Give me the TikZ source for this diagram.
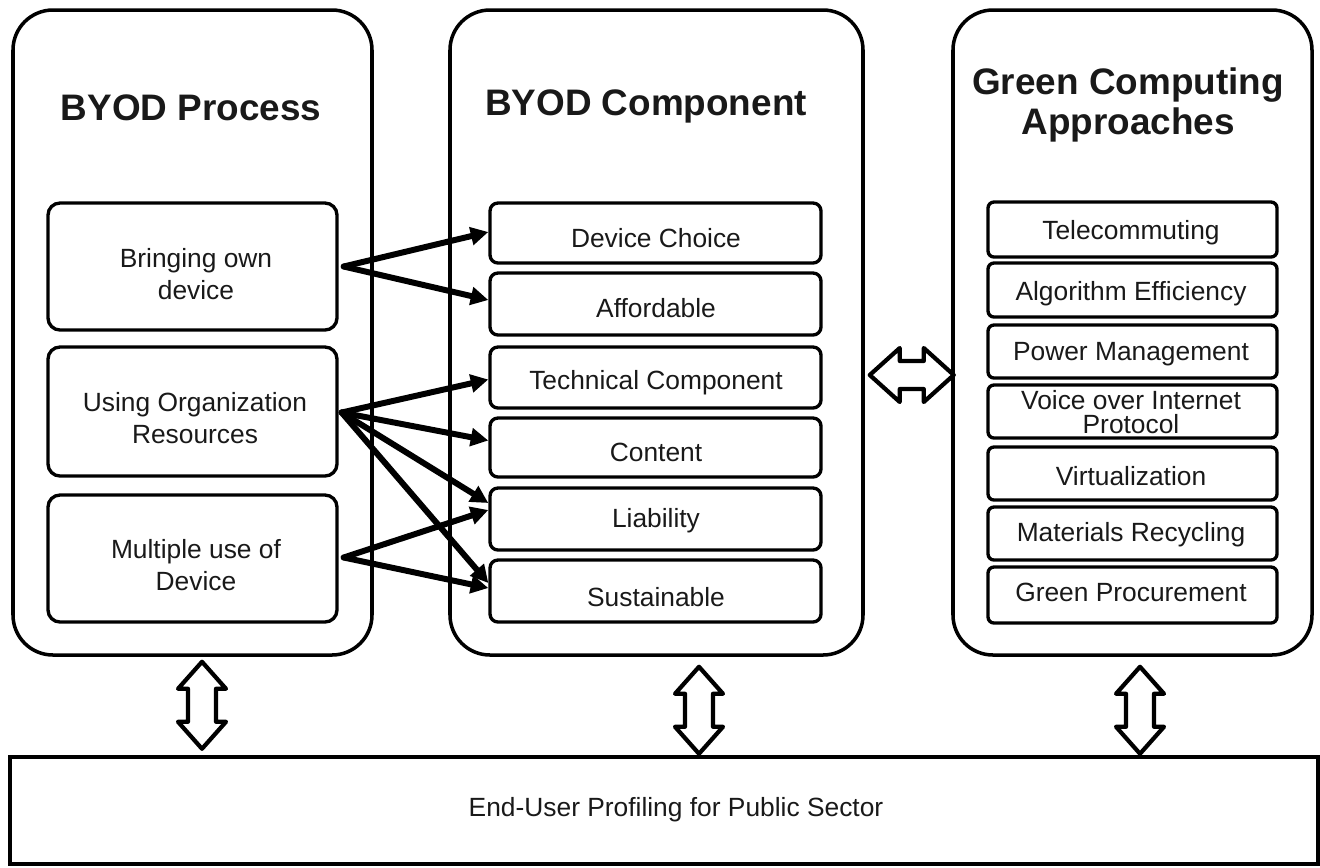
\documentclass[tikz,border=0pt]{standalone}
\usepackage{fontspec}
\setmainfont{Liberation Sans}
\usetikzlibrary{arrows.meta,calc}
\definecolor{ink}{RGB}{25,25,25}
\begin{document}
\begin{tikzpicture}[x=0.02cm,y=-0.02cm,
  sz/.style 2 args={minimum width=#1*0.02cm, minimum height=#2*0.02cm},
  panel/.style={draw=black, line width=2pt, rounded corners=0.8cm, inner sep=0},
  lbox/.style={draw=black, line width=1.9pt, rounded corners=0.24cm, inner sep=0},
  mbox/.style={draw=black, line width=1.9pt, rounded corners=0.16cm, inner sep=0},
  rbox/.style={draw=black, line width=1.9pt, rounded corners=0.12cm, inner sep=0},
  ttl/.style={font=\fontsize{21}{23}\selectfont\bfseries, text=ink, align=center, inner sep=0},
  lbl/.style={font=\fontsize{15}{18}\selectfont, text=ink, align=center, inner sep=0},
  link/.style={draw=black, line width=3.4pt, line cap=round, -{Triangle[length=10pt,width=10pt]}},
  dbl/.style={draw=black, line width=2.4pt, fill=white, line join=round},
  vdbl/.pic={\draw[dbl] (0,0) -- (24,27) -- (14,27) -- (14,60) -- (24,60) -- (0,87) -- (-24,60) -- (-14,60) -- (-14,27) -- (-24,27) -- cycle;},
  hdbl/.pic={\draw[dbl] (0,0) -- (30,-27) -- (30,-14) -- (54,-14) -- (54,-27) -- (84,0) -- (54,27) -- (54,14) -- (30,14) -- (30,27) -- cycle;},
]
\useasboundingbox (0,0) rectangle (1320,867);

% panels
\node[panel, sz={359}{645}] (p1) at (192.5,332.5) {};
\node[panel, sz={413}{645}] (p2) at (656.5,332.5) {};
\node[panel, sz={359}{645}] (p3) at (1132.5,332.5) {};

% titles
\node[ttl] (t1) at (191,108) {BYOD Process};
\node[ttl] (t2) at (646,106) {BYOD Component};
\node[ttl] (t3) at (1128,105) {Green Computing\\Approaches};

% left boxes
\node[lbox, sz={289}{127}] (b1) at (192.5,266.5) {};
\node[lbox, sz={289}{129}] (b2) at (192.5,411.5) {};
\node[lbox, sz={289}{127}] (b3) at (192.5,558.5) {};
\node[lbl] (b1t) at (196,274) {Bringing own\\device};
\node[lbl] (b2t) at (195,418) {Using Organization\\Resources};
\node[lbl] (b3t) at (196,565) {Multiple use of\\Device};

% middle boxes
\node[mbox, sz={331}{60}] (c1) at (655.5,233) {};
\node[mbox, sz={331}{62}] (c2) at (655.5,304) {};
\node[mbox, sz={331}{61}] (c3) at (655.5,377.5) {};
\node[mbox, sz={331}{59}] (c4) at (655.5,447.5) {};
\node[mbox, sz={331}{62}] (c5) at (655.5,519) {};
\node[mbox, sz={331}{62}] (c6) at (655.5,591) {};
\node[lbl] (c1t) at (656,238) {Device Choice};
\node[lbl] (c2t) at (656,308) {Affordable};
\node[lbl] (c3t) at (656,383) {Technical Component};
\node[lbl] (c4t) at (656,452) {Content};
\node[lbl] (c5t) at (656,521) {Liability};
\node[lbl] (c6t) at (656,597) {Sustainable};

% right boxes
\node[rbox, sz={289}{55}] (g1) at (1132.5,229.5) {};
\node[rbox, sz={289}{54}] (g2) at (1132.5,290) {};
\node[rbox, sz={289}{53}] (g3) at (1132.5,351.5) {};
\node[rbox, sz={289}{53}] (g4) at (1132.5,411.5) {};
\node[rbox, sz={289}{53}] (g5) at (1132.5,473.5) {};
\node[rbox, sz={289}{53}] (g6) at (1132.5,533.5) {};
\node[rbox, sz={289}{56}] (g7) at (1132.5,595) {};
\node[lbl] (g1t) at (1131,233) {Telecommuting};
\node[lbl] (g2t) at (1131,294) {Algorithm Efficiency};
\node[lbl] (g3t) at (1131,354) {Power Management};
\node[lbl, font=\fontsize{15}{14}\selectfont] (g4t) at (1131,412) {Voice over Internet\\Protocol};
\node[lbl] (g5t) at (1131,476) {Virtualization};
\node[lbl] (g6t) at (1131,535) {Materials Recycling};
\node[lbl] (g7t) at (1131,592) {Green Procurement};

% bottom box
\node[draw=black, line width=2pt, inner sep=0, sz={1308}{107}] (bot) at (664,810.5) {};
\node[lbl] (bott) at (676,810) {End-User Profiling for Public Sector};

% links
\coordinate (s1) at ($(b1.east)+(5,0)$);
\coordinate (s2) at ($(b2.east)+(3,1)$);
\coordinate (s3) at ($(b3.east)+(5,-1)$);
\draw[link] (s1) -- ($(c1.west)+(0,-1)$);
\draw[link] (s1) -- ($(c2.west)+(0,-4)$);
\draw[link] (s2) -- ($(c3.west)+(0,2)$);
\draw[link] (s2) -- ($(c4.west)+(0,-7)$);
\draw[link] (s2) -- ($(c5.west)+(0,-16)$);
\draw[link] (s2) -- ($(c6.west)+(0,-8)$);
\draw[link] (s3) -- ($(c5.west)+(0,-9)$);
\draw[link] (s3) -- ($(c6.west)+(0,-3)$);

% double arrows
\coordinate (v1) at ($(p1.south)+(9.5,5)$);
\coordinate (v2) at ($(p2.south)+(42.5,10)$);
\coordinate (v3) at ($(p3.south)+(7.5,10)$);
\pic at (v1) {vdbl};
\pic at (v2) {vdbl};
\pic at (v3) {vdbl};
\coordinate (h1) at ($(p2.east)+(5,42.5)$);
\pic at (h1) {hdbl};
\end{tikzpicture}
\end{document}
